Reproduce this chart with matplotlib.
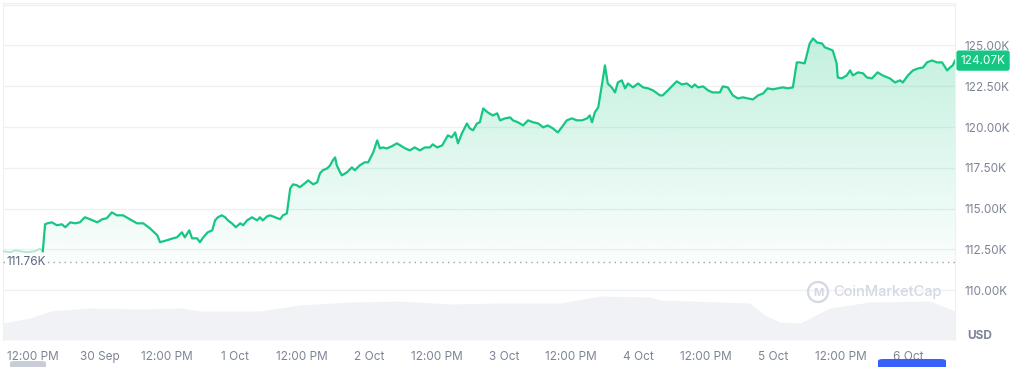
import numpy as np
import matplotlib
matplotlib.use('Agg')
import matplotlib.pyplot as plt
from matplotlib.patches import FancyBboxPatch, Ellipse

plt.rcParams['font.family'] = ['Inter', 'DejaVu Sans']

# hours since 29 Sep 00:00 and BTC price (thousands USD)
hours = [6.7, 8.0, 8.9, 9.7, 11.0, 12.4, 13.3, 13.8, 14.2, 14.6, 15.4, 16.3, 17.2, 17.8, 18.7, 19.5,
         20.4, 21.3, 22.2, 23.5, 24.4, 25.2, 26.1, 27.0, 28.1, 29.3, 30.6, 31.7, 32.9, 34.2, 34.7,
         35.9, 37.0, 37.7, 38.6, 39.1, 39.9, 40.4, 41.3, 41.8, 42.4, 43.2, 44.0, 44.5, 45.0, 45.7,
         46.3, 46.8, 47.5, 48.2, 49.0, 49.5, 50.2, 51.1, 52.0, 52.5, 53.0, 53.8, 54.3, 55.2, 56.1,
         56.6, 57.3, 57.9, 58.4, 59.1, 59.6, 60.5, 61.1, 62.0, 62.7, 63.2, 63.7, 64.5, 65.0, 65.5,
         65.9, 66.2, 66.8, 67.1, 68.0, 68.9, 69.4, 70.3, 71.2, 71.8, 72.7, 73.4, 73.9, 74.4, 75.1,
         76.0, 76.9, 77.5, 78.4, 79.2, 80.1, 81.0, 81.9, 82.8, 83.3, 84.1, 85.0, 85.5, 86.0, 86.7,
         87.3, 87.8, 88.5, 89.4, 89.9, 90.5, 91.2, 91.7, 92.3, 93.1, 94.0, 94.8, 95.3, 96.2, 97.1,
         97.6, 98.5, 99.4, 100.3, 101.2, 102.1, 103.0, 103.8, 104.7, 105.6, 106.3, 107.2, 108.1,
         109.0, 109.9, 110.8, 111.3, 111.7, 112.2, 112.8, 113.5, 114.0, 114.5, 115.2, 115.8, 116.3,
         117.0, 117.6, 118.1, 119.0, 119.9, 120.8, 121.7, 122.6, 123.8, 124.3, 125.2, 126.1, 126.8,
         127.7, 128.6, 129.5, 130.0, 130.6, 131.5, 132.4, 133.2, 134.5, 135.0, 135.9, 136.8, 137.7,
         138.6, 139.5, 140.4, 141.3, 142.2, 143.0, 143.9, 144.8, 145.7, 146.6, 147.5, 148.2, 148.7,
         149.6, 150.5, 151.1, 151.8, 152.7, 153.2, 153.7, 154.6, 155.3, 155.5, 156.2, 157.1, 157.7,
         158.2, 159.1, 160.0, 160.7, 161.6, 162.6, 163.5, 164.8, 165.7, 166.6, 167.1, 168.0, 168.9,
         169.8, 170.7, 171.4, 172.3, 173.2, 174.1, 175.0, 175.5, 176.0, 176.4]
price = [112.39, 112.33, 112.45, 112.39, 112.33, 112.39, 112.55, 112.39, 114.04, 114.10, 114.16,
         113.98, 114.04, 113.86, 114.16, 114.10, 114.16, 114.47, 114.35, 114.16, 114.35, 114.41,
         114.77, 114.59, 114.59, 114.35, 114.10, 114.10, 113.79, 113.37, 112.94, 113.06, 113.18,
         113.24, 113.55, 113.24, 113.67, 113.18, 113.18, 112.94, 113.24, 113.55, 113.67, 114.28,
         114.47, 114.59, 114.47, 114.28, 114.10, 113.86, 114.10, 113.98, 114.28, 114.47, 114.28,
         114.47, 114.28, 114.53, 114.59, 114.47, 114.35, 114.59, 114.71, 116.24, 116.49, 116.43,
         116.31, 116.55, 116.73, 116.49, 116.61, 117.16, 117.35, 117.47, 117.65, 117.96, 118.14,
         117.65, 117.22, 117.04, 117.22, 117.53, 117.35, 117.65, 117.84, 117.84, 118.45, 119.18,
         118.69, 118.75, 118.69, 118.82, 119.00, 118.88, 118.69, 118.57, 118.75, 118.57, 118.75,
         118.75, 118.94, 118.75, 118.88, 119.18, 119.49, 119.37, 119.67, 119.00, 119.61, 120.22,
         119.92, 119.80, 120.22, 120.29, 121.14, 120.90, 120.71, 120.84, 120.41, 120.53, 120.59,
         120.41, 120.29, 120.10, 120.41, 120.29, 120.22, 119.98, 120.10, 119.92, 119.67, 119.98,
         120.41, 120.53, 120.41, 120.41, 120.53, 120.71, 120.29, 120.90, 121.20, 122.67, 123.78,
         122.67, 122.43, 122.12, 122.73, 122.86, 122.37, 122.67, 122.43, 122.67, 122.43, 122.37,
         122.24, 121.94, 121.94, 122.24, 122.55, 122.80, 122.61, 122.67, 122.43, 122.61, 122.43,
         122.49, 122.24, 122.12, 122.12, 122.49, 122.43, 121.94, 121.75, 121.82, 121.75, 121.69,
         121.94, 122.06, 122.37, 122.31, 122.37, 122.43, 122.37, 122.43, 123.96, 123.96, 123.90,
         125.12, 125.43, 125.18, 125.12, 124.88, 124.82, 124.69, 123.90, 123.04, 122.98, 123.16,
         123.47, 123.16, 123.35, 123.29, 123.04, 122.98, 123.35, 123.16, 122.98, 122.73, 122.86,
         122.73, 123.16, 123.47, 123.59, 123.65, 123.96, 124.08, 123.96, 123.96, 123.47, 123.65,
         123.78, 124.07]

# 24h volume (billions USD)
vol_hours = [6.7, 11.5, 15.1, 22.2, 31.1, 38.3, 41.8, 52.5, 59.6, 68.6, 77.5, 86.4, 95.3, 106.0,
             113.1, 122.0, 123.8, 134.5, 139.8, 142.5, 145.2, 148.8, 154.1, 161.2, 171.9, 176.4]
volume = [34, 44, 58, 64, 62, 64, 58, 58, 70, 76, 78, 72, 74, 74, 88, 86, 80, 76, 74, 50, 36, 34,
          64, 76, 78, 58]

baseline = 111.76
last_price = 124.07
start_idx = 8  # first point after the open

tick_hours = [12, 24, 36, 48, 60, 72, 84, 96, 108, 120, 132, 144, 156, 168]
tick_labels = ['12:00 PM', '30 Sep', '12:00 PM', '1 Oct', '12:00 PM', '2 Oct', '12:00 PM', '3 Oct',
               '12:00 PM', '4 Oct', '12:00 PM', '5 Oct', '12:00 PM', '6 Oct']
y_ticks = [110, 112.5, 115, 117.5, 120, 122.5, 125]

green = '#16c784'
grey_txt = '#7d8495'
grid_c = '#eef0f3'

fig = plt.figure(figsize=(10.24, 3.67), dpi=100)
ax = fig.add_axes([3 / 1024, 1 - 340 / 367, 952 / 1024, 337 / 367])
x0, x1 = 6.7, 176.4
y0, y1 = 106.95, 127.6
ax.set_xlim(x0, x1)
ax.set_ylim(y0, y1)

# volume on its own scale
axv = ax.twinx()
axv.set_ylim(0, 674)
axv.fill_between(vol_hours, volume, 0, color='#f0f2f5', lw=0, zorder=1)
axv.axis('off')

for yt in y_ticks + [127.5]:
    ax.axhline(yt, color=grid_c, lw=1, zorder=0)

# gradient under price line
h = np.array(hours)
p = np.array(price)
poly = ax.fill_between(h, p, baseline, color='none', lw=0)
grad = np.zeros((256, 1, 4))
rgb = matplotlib.colors.to_rgb(green)
grad[:, 0, :3] = rgb
grad[:, 0, 3] = np.linspace(0.26, 0.02, 256)
img = ax.imshow(grad, aspect='auto', extent=[x0, x1, baseline, max(price)], origin='upper', zorder=2)
img.set_clip_path(poly.get_paths()[0], transform=ax.transData)

ax.plot(h[:start_idx], p[:start_idx], color='#a9e8c9', lw=1.2, zorder=3)
ax.plot(h[start_idx - 1:], p[start_idx - 1:], color=green, lw=1.6, zorder=4)

ax.axhline(baseline, color='#9aa1b1', lw=1, ls=(0, (1, 3)), zorder=3)
ax.text(x0 + 0.6, baseline, '111.76K', color='#58667e', fontsize=8.5, va='center', ha='left',
        zorder=5, bbox=dict(facecolor='white', edgecolor='none', pad=1))

ax.set_xticks(tick_hours)
ax.set_xticklabels(tick_labels)
ax.set_yticks(y_ticks)
ax.set_yticklabels([f'{v:.2f}K' for v in y_ticks])
ax.yaxis.tick_right()
ax.tick_params(axis='both', length=0, labelsize=8.5, labelcolor=grey_txt)
ax.tick_params(axis='x', pad=8)
ax.tick_params(axis='y', pad=7)
for side in ['left', 'right', 'top']:
    ax.spines[side].set_color(grid_c)
ax.spines['bottom'].set_visible(False)

# current price tag
ax.annotate(f'{last_price:.2f}K', xy=(1, last_price), xycoords=('axes fraction', 'data'),
            xytext=(4, 0), textcoords='offset points', color='white', fontsize=8.5,
            va='center', ha='left', zorder=6,
            bbox=dict(boxstyle='round,pad=0.35,rounding_size=0.2', facecolor=green, edgecolor='none'))

fig.text(980 / 1024, 1 - 336 / 367, 'USD', color=grey_txt, fontsize=8.5, fontweight='bold',
         ha='center', va='center')

# watermark
fig.add_artist(Ellipse((818 / 1024, 1 - 292 / 367), 20 / 1024, 20 / 367, transform=fig.transFigure,
                       facecolor='none', edgecolor='#d3d8e3', lw=1.6))
fig.text(818 / 1024, 1 - 293 / 367, 'M', color='#d3d8e3', fontsize=8, fontweight='bold',
         ha='center', va='center')
fig.text(833 / 1024, 1 - 292 / 367, 'CoinMarketCap', color='#d3d8e3', fontsize=10.5,
         fontweight='medium', ha='left', va='center')

# navigator handles at bottom edge
fig.add_artist(FancyBboxPatch((10 / 1024, -6 / 367), 36 / 1024, 12 / 367, transform=fig.transFigure,
                              boxstyle='round,pad=0,rounding_size=0.005', facecolor='#c9cdd6',
                              edgecolor='none'))
fig.add_artist(FancyBboxPatch((878 / 1024, -6 / 367), 68 / 1024, 14 / 367, transform=fig.transFigure,
                              boxstyle='round,pad=0,rounding_size=0.005', facecolor='#3861fb',
                              edgecolor='none'))

fig.savefig('out.png', dpi=100)
